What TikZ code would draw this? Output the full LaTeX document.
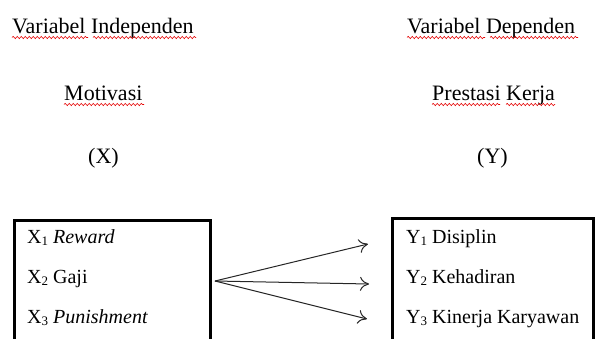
\documentclass[tikz,border=0pt]{standalone}
\usepackage{fontspec}
\setmainfont{Liberation Serif}
\usetikzlibrary{decorations.pathmorphing,arrows.meta}
\newcommand\sbs[1]{\raisebox{-0.12em}{\fontsize{13}{13}\selectfont #1}}
\begin{document}
\begin{tikzpicture}[x=1pt,y=-1pt,
  head/.style={inner sep=0pt, anchor=base west, font=\fontsize{22}{26}\selectfont},
  item/.style={inner sep=0pt, anchor=base west, font=\fontsize{20}{24}\selectfont},
  box/.style={draw=black, line width=2.6pt, inner sep=0pt, anchor=north west},
  link/.style={line width=1pt, draw=black!85, -{To[length=9pt,width=14pt,line width=1pt]}},
  wavy/.style={draw=red!90!black, line width=0.6pt, decorate, decoration={snake, amplitude=1.1pt, segment length=4pt}}]
\useasboundingbox (0,0) rectangle (596,338);
\clip (0,0) rectangle (596,338);
% headings
\node[head] (h1) at (12,33) {Variabel Independen};
\node[head] (h2) at (407,33) {Variabel Dependen};
\node[head] (m1) at (64,100) {Motivasi};
\node[head] (m2) at (432,100) {Prestasi Kerja};
\node[head] (v1) at (88,163) {(X)};
\node[head] (v2) at (477,163) {(Y)};
% spell-check underlines
\draw[wavy] (12,37.5) -- (88,37.5);
\draw[wavy] (93,37.5) -- (196,37.5);
\draw[wavy] (407,37.5) -- (485,37.5);
\draw[wavy] (490,37.5) -- (578,37.5);
\draw[wavy] (64,104.5) -- (144,104.5);
\draw[wavy] (432,104.5) -- (500,104.5);
\draw[wavy] (506,104.5) -- (555,104.5);
% boxes
\node[box, minimum width=196pt, minimum height=126pt] (xbox) at (13,219) {};
\node[box, minimum width=201pt, minimum height=126pt] (ybox) at (391,217) {};
\node[item] (x1) at (27,243) {X\sbs{1} \textit{Reward}};
\node[item] (x2) at (27,283) {X\sbs{2} Gaji};
\node[item] (x3) at (27,323) {X\sbs{3} \textit{Punishment}};
\node[item] (y1) at (406,243) {Y\sbs{1} Disiplin};
\node[item] (y2) at (406,283) {Y\sbs{2} Kehadiran};
\node[item] (y3) at (406,323) {Y\sbs{3} Kinerja Karyawan};
% arrows
\coordinate (src) at (215,281);
\coordinate (t1) at (368,244);
\coordinate (t2) at (369,284);
\coordinate (t3) at (367,319);
\draw[link] (src) -- (t1);
\draw[link] (src) -- (t2);
\draw[link] (src) -- (t3);
\end{tikzpicture}
\end{document}
